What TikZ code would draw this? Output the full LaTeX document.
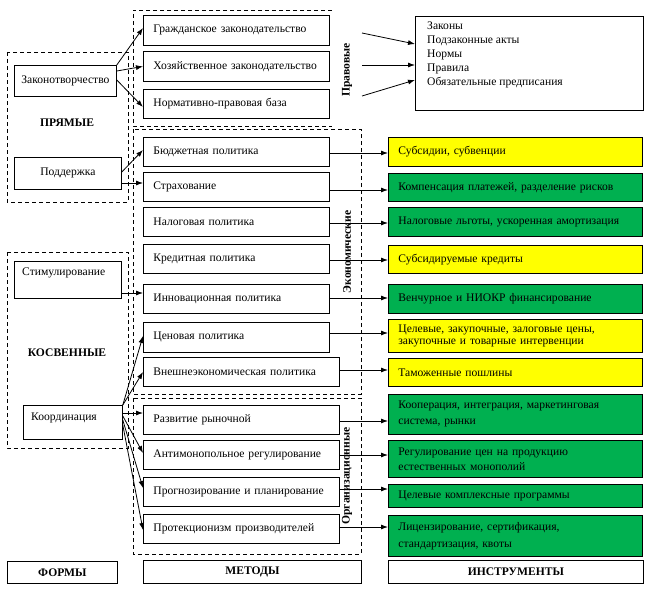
\documentclass[tikz,border=0pt]{standalone}
\usepackage{fontspec}
\setmainfont{Liberation Serif}
\usetikzlibrary{arrows.meta}
\definecolor{yel}{RGB}{255,255,0}
\definecolor{grn}{RGB}{0,176,80}
\tikzset{
  txt/.style={font=\fontsize{11.6}{14}\selectfont},
  mb/.style={txt, draw, line width=0.8pt, anchor=north west, inner xsep=10pt, inner ysep=0pt, align=left},
  cb/.style={txt, draw, line width=0.8pt, anchor=north west, inner sep=0pt, align=center},
  grp/.style={dashed, line width=0.8pt, dash pattern=on 4pt off 3pt},
  ttl/.style={font=\fontsize{11.6}{13}\selectfont\bfseries},
  vlab/.style={font=\fontsize{11.6}{13}\selectfont\bfseries, rotate=90},
  arr/.style={line width=0.8pt, -{Latex[length=7pt,width=5pt]}},
  plain/.style={line width=0.8pt}
}
\begin{document}
\begin{tikzpicture}[x=1pt,y=-1pt]
\useasboundingbox (0,0) rectangle (650,594);

% dashed groups
\draw[grp] (7,52) rectangle (128,202);
\draw[grp] (7,252) rectangle (128,448);
\draw[grp] (332,10) -- (133,10) -- (133,126) -- (332,126);
\draw[grp] (133,129) rectangle (361,394);
\draw[grp] (133,398) rectangle (361,554);

% left column
\node[cb, minimum width=102pt, minimum height=31pt] (zak) at (14,65) {Законотворчество};
\node[ttl] (pr) at (67,123) {ПРЯМЫЕ};
\node[cb, minimum width=107pt, minimum height=32pt] (pod) at (14,157) {Поддержка};
\node[cb, minimum width=107pt, minimum height=37pt] (stim) at (14,261) {};
\node[txt, anchor=west, inner sep=0pt] (stimt) at (22,273) {Стимулирование};
\node[ttl] (kos) at (67,353) {КОСВЕННЫЕ};
\node[cb, minimum width=99pt, minimum height=34pt] (koord) at (23,405) {};
\node[txt, anchor=west, inner sep=0pt] (koordt) at (31,418) {Координация};

% methods
\node[mb, text width=166pt, minimum height=30pt] (g1) at (143,15) {Гражданское законодательство};
\node[mb, text width=166pt, minimum height=30pt] (g2) at (143,51) {Хозяйственное законодательство};
\node[mb, text width=166pt, minimum height=29pt] (g3) at (143,89) {Нормативно-правовая база};
\node[mb, text width=166pt, minimum height=29pt] (e1) at (143,137) {Бюджетная политика};
\node[mb, text width=166pt, minimum height=29pt] (e2) at (143,172) {Страхование};
\node[mb, text width=166pt, minimum height=29pt] (e3) at (143,207) {Налоговая политика};
\node[mb, text width=166pt, minimum height=29pt] (e4) at (143,244) {Кредитная политика};
\node[mb, text width=166pt, minimum height=29pt] (e5) at (143,284) {Инновационная политика};
\node[mb, text width=166pt, minimum height=30pt] (e6) at (143,322) {Ценовая политика};
\node[mb, text width=176pt, minimum height=29pt] (e7) at (143,357) {Внешнеэкономическая политика};
\node[mb, text width=176pt, minimum height=29pt] (o1) at (143,405) {Развитие рыночной};
\node[mb, text width=176pt, minimum height=29pt] (o2) at (143,440) {Антимонопольное регулирование};
\node[mb, text width=176pt, minimum height=29pt] (o3) at (143,477) {Прогнозирование и планирование};
\node[mb, text width=176pt, minimum height=29pt] (o4) at (143,514) {Протекционизм производителей};

% vertical labels
\node[vlab] (lpr) at (347,70) {Правовые};
\node[vlab] (lec) at (347,252) {Экономические};
\node[vlab] (lor) at (347,476) {Организационные};

% legal instruments
\node[cb, minimum width=228pt, minimum height=94pt] (leg) at (415,16) {};
\node[txt, anchor=north west, align=left, inner sep=0pt] (legt) at (427,22)
  {Законы\\Подзаконные акты\\Нормы\\Правила\\Обязательные предписания};
\coordinate (s1) at (362,33);
\coordinate (s2) at (362,65);
\coordinate (s3) at (362,96);
\draw[arr] (s1) -- (leg.west |- 0,44);
\draw[arr] (s2) -- (leg.west |- 0,65);
\draw[arr] (s3) -- (leg.west |- 0,80);

% instruments
\node[mb, fill=yel, text width=234pt, minimum height=29pt] (i1) at (388,137) {Субсидии, субвенции};
\node[mb, fill=grn, text width=234pt, minimum height=28pt] (i2) at (388,173) {Компенсация платежей, разделение рисков};
\node[mb, fill=grn, text width=234pt, minimum height=29pt] (i3) at (388,207) {Налоговые льготы, ускоренная амортизация};
\node[mb, fill=yel, text width=234pt, minimum height=28pt] (i4) at (388,245) {Субсидируемые кредиты};
\node[mb, fill=grn, text width=234pt, minimum height=29pt] (i5) at (388,284) {Венчурное и НИОКР финансирование};
\node[mb, fill=yel, text width=234pt, minimum height=33pt, font=\fontsize{11.6}{12.5}\selectfont] (i6) at (388,319) {Целевые, закупочные, залоговые цены,\\закупочные и товарные интервенции};
\node[mb, fill=yel, text width=234pt, minimum height=28pt] (i7) at (388,358) {Таможенные пошлины};
\node[mb, fill=grn, text width=234pt, minimum height=40pt, font=\fontsize{11.6}{16}\selectfont] (i8) at (388,394) {Кооперация, интеграция, маркетинговая\\система, рынки};
\node[mb, fill=grn, text width=234pt, minimum height=37pt, font=\fontsize{11.6}{15}\selectfont] (i9) at (388,440) {Регулирование цен на продукцию\\естественных монополий};
\node[mb, fill=grn, text width=234pt, minimum height=23pt] (i10) at (388,484) {Целевые комплексные программы};
\node[mb, fill=grn, text width=234pt, minimum height=41pt, font=\fontsize{11.6}{17}\selectfont] (i11) at (388,515) {Лицензирование, сертификация,\\стандартизация, квоты};

% bottom titles
\node[cb, ttl, minimum width=110pt, minimum height=22pt] (fo) at (7,561) {ФОРМЫ};
\node[cb, ttl, minimum width=218pt, minimum height=23pt] (me) at (143,560) {МЕТОДЫ};
\node[cb, ttl, minimum width=255pt, minimum height=23pt] (in) at (388,560) {ИНСТРУМЕНТЫ};

% arrows from forms to methods
\draw[arr] (zak.north east) -- (g1.west |- 0,28);
\draw[arr] (zak.east |- 0,71) -- (g2.west);
\draw[arr] (zak.east |- 0,80) -- (g3.west |- 0,107);
\draw[arr] (pod.east |- 0,172) -- (e1.west |- 0,150);
\draw[arr] (pod.east |- 0,183) -- (e2.west |- 0,183);
\draw[arr] (stim.east |- 0,293) -- (e5.west |- 0,293);
\draw[arr] (koord.north east) -- (e6.west |- 0,336);
\draw[arr] (koord.north east) -- (e7.west |- 0,372);
\draw[arr] (koord.east |- 0,413) -- (o1.west |- 0,413);
\draw[arr] (koord.east |- 0,416) -- (o2.west |- 0,453);
\draw[arr] (koord.east |- 0,420) -- (o3.west |- 0,488);
\draw[arr] (koord.east |- 0,425) -- (o4.west |- 0,530);

% arrows from methods to instruments
\draw[arr] (e1.east |- 0,153) -- (i1.west |- 0,153);
\draw[arr] (e2.east |- 0,190) -- (i2.west |- 0,190);
\draw[arr] (e3.east |- 0,223) -- (i3.west |- 0,223);
\draw[arr] (e4.east |- 0,260) -- (i4.west |- 0,260);
\draw[arr] (e5.east |- 0,298) -- (i5.west |- 0,298);
\draw[arr] (e6.east |- 0,333) -- (i6.west |- 0,333);
\draw[arr] (e7.east |- 0,370) -- (i7.west |- 0,370);
\draw[arr] (o1.east |- 0,421) -- (i8.west |- 0,421);
\draw[arr] (o2.east |- 0,455) -- (i9.west |- 0,455);
\draw[arr] (o3.east |- 0,489) -- (i10.west |- 0,489);
\draw[arr] (o4.east |- 0,527) -- (i11.west |- 0,527);
\end{tikzpicture}
\end{document}
